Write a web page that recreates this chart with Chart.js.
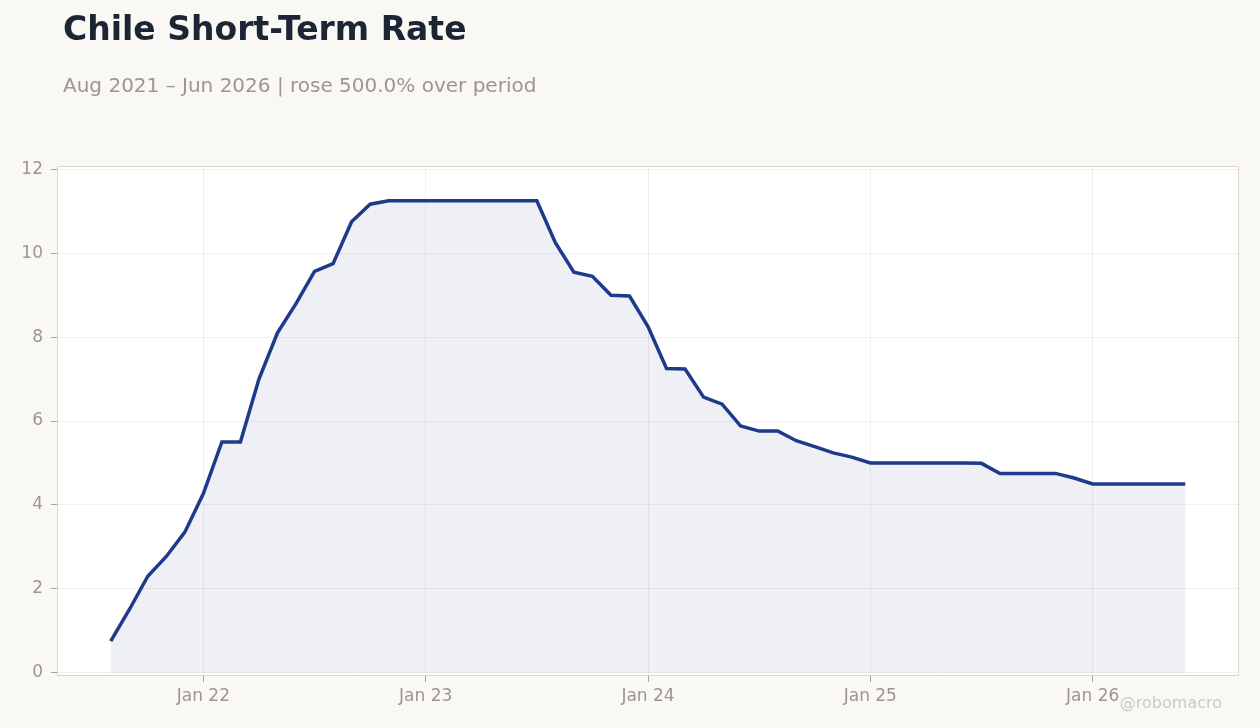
<!DOCTYPE html>
<html>
<head>
<meta charset="utf-8">
<script src="https://cdn.jsdelivr.net/npm/chart.js@4.4.1/dist/chart.umd.min.js"></script>
<style>
  html, body { margin: 0; padding: 0; background: #f9f8f5; }
  #wrap { position: relative; width: 1260px; height: 728px; overflow: hidden; }
  #box { position: absolute; left: 0; top: 0; width: 1260px; height: 728px; }
  .title {
    position: absolute; left: 63px; top: 12px; margin: 0;
    font: bold 33px/33px "DejaVu Sans", sans-serif; color: #1c2533;
    white-space: nowrap;
  }
  .sub {
    position: absolute; left: 63px; top: 75px; margin: 0;
    font: 20px/20px "DejaVu Sans", sans-serif; color: #9c968f;
    white-space: nowrap;
  }
  .mark {
    position: absolute; right: 38px; top: 695px;
    font: 16px/16px "DejaVu Sans", sans-serif; color: #cdc9c4;
  }
</style>
</head>
<body>
<div id="wrap">
  <div id="box"><canvas id="rateChart"></canvas></div>
  <h1 class="title">Chile Short-Term Rate</h1>
  <p class="sub">Aug 2021 – Jun 2026 | rose 500.0% over period</p>
  <div class="mark">@robomacro</div>
</div>
<script>
// ---- data ----
const months = [
  "Aug 21", "Sep 21", "Oct 21", "Nov 21", "Dec 21",
  "Jan 22", "Feb 22", "Mar 22", "Apr 22", "May 22", "Jun 22", "Jul 22", "Aug 22", "Sep 22", "Oct 22", "Nov 22", "Dec 22",
  "Jan 23", "Feb 23", "Mar 23", "Apr 23", "May 23", "Jun 23", "Jul 23", "Aug 23", "Sep 23", "Oct 23", "Nov 23", "Dec 23",
  "Jan 24", "Feb 24", "Mar 24", "Apr 24", "May 24", "Jun 24", "Jul 24", "Aug 24", "Sep 24", "Oct 24", "Nov 24", "Dec 24",
  "Jan 25", "Feb 25", "Mar 25", "Apr 25", "May 25", "Jun 25", "Jul 25", "Aug 25", "Sep 25", "Oct 25", "Nov 25", "Dec 25",
  "Jan 26", "Feb 26", "Mar 26", "Apr 26", "May 26", "Jun 26"
];

const rate = [
  0.75, 1.5, 2.3, 2.77, 3.35,
  4.27, 5.5, 5.5, 7.0, 8.1, 8.8, 9.57, 9.75, 10.75, 11.17, 11.25, 11.25,
  11.25, 11.25, 11.25, 11.25, 11.25, 11.25, 11.25, 10.25, 9.55, 9.45, 9.0, 8.98,
  8.25, 7.25, 7.24, 6.57, 6.4, 5.88, 5.76, 5.76, 5.53, 5.39, 5.24, 5.14,
  5.0, 5.0, 5.0, 5.0, 5.0, 5.0, 4.99, 4.75, 4.75, 4.75, 4.75, 4.64,
  4.5, 4.5, 4.5, 4.5, 4.5, 4.5
];

const xTickLabels = ["Jan 22", "Jan 23", "Jan 24", "Jan 25", "Jan 26"];
const yTicks = [0, 2, 4, 6, 8, 10, 12];

// ---- plot frame ----
const framePlugin = {
  id: "frame",
  beforeDraw(chart) {
    const { ctx, chartArea: a } = chart;
    ctx.save();
    ctx.fillStyle = "#ffffff";
    ctx.fillRect(a.left, a.top, a.right - a.left, a.bottom - a.top);
    ctx.restore();
  },
  afterDraw(chart) {
    const { ctx, chartArea: a } = chart;
    ctx.save();
    ctx.strokeStyle = "#ddd5cd";
    ctx.lineWidth = 1;
    ctx.strokeRect(a.left + 0.5, a.top + 0.5, a.right - a.left - 1, a.bottom - a.top - 1);
    ctx.restore();
  }
};

const tickFont = { family: "'DejaVu Sans', sans-serif", size: 17 };
const points = rate.map((v, i) => ({ x: i, y: v }));
const pad = (rate.length - 1) * 0.05;

new Chart(document.getElementById("rateChart"), {
  type: "line",
  data: {
    datasets: [
      {
        label: "Chile Short-Term Rate",
        data: points,
        borderColor: "#1e3a8a",
        borderWidth: 3.5,
        backgroundColor: "rgba(40, 60, 130, 0.08)",
        fill: "origin",
        pointRadius: 0,
        tension: 0,
      },
    ],
  },
  options: {
    responsive: true,
    maintainAspectRatio: false,
    animation: false,
    layout: { padding: { top: 166, right: 21, left: 0, bottom: 0 } },
    scales: {
      x: {
        type: "linear",
        min: -pad,
        max: rate.length - 1 + pad,
        afterBuildTicks(scale) {
          scale.ticks = xTickLabels.map((l) => ({ value: months.indexOf(l) }));
        },
        afterFit(scale) { scale.height = 52; },
        ticks: {
          color: "#9c968f",
          font: tickFont,
          padding: 4,
          maxRotation: 0,
          autoSkip: false,
          callback: (v) => months[v],
        },
        grid: { color: "rgba(0, 0, 0, 0.06)", tickColor: "#a8a29c", tickLength: 6 },
        border: { display: false },
      },
      y: {
        min: -0.08,
        max: 12.08,
        afterBuildTicks(scale) {
          scale.ticks = yTicks.map((v) => ({ value: v }));
        },
        afterFit(scale) { scale.width = 57; },
        ticks: { color: "#9c968f", font: tickFont, padding: 8 },
        grid: { color: "rgba(0, 0, 0, 0.06)", tickColor: "#a8a29c", tickLength: 6 },
        border: { display: false },
      },
    },
    plugins: {
      legend: { display: false },
      tooltip: { enabled: false },
    },
  },
  plugins: [framePlugin],
});
</script>
</body>
</html>
